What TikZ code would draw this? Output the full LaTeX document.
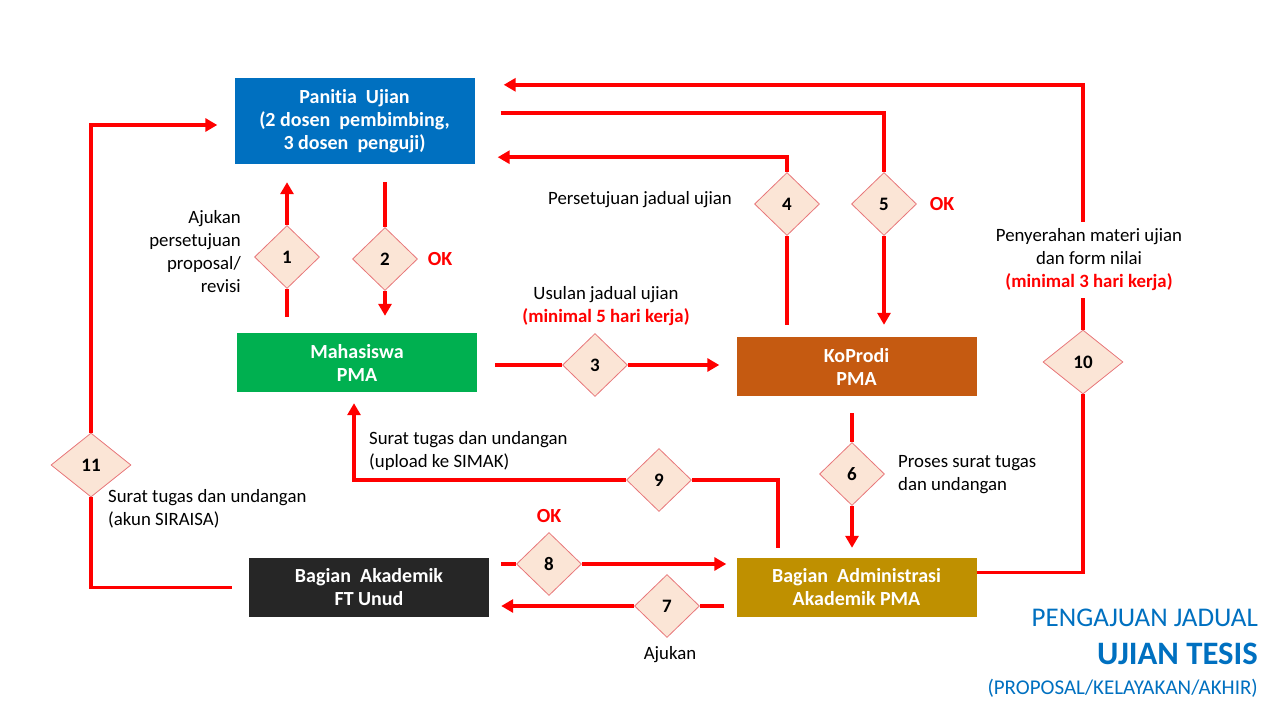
\documentclass[tikz,border=0pt]{standalone}
\usepackage{fontspec}
\setmainfont{Carlito}[Ligatures=NoCommon]
\usetikzlibrary{arrows.meta,shapes.geometric,positioning}

\definecolor{panblue}{HTML}{0070C0}
\definecolor{mhsgreen}{HTML}{00B050}
\definecolor{kopbrown}{HTML}{C55A11}
\definecolor{bakblack}{HTML}{262626}
\definecolor{baagold}{HTML}{BF9000}
\definecolor{flowred}{HTML}{FF0000}
\definecolor{stepfill}{HTML}{FBE5D6}
\definecolor{stepdraw}{HTML}{E8777A}

\tikzset{
  box/.style={rectangle, align=center, text=white, inner sep=0pt,
    minimum width=240pt, minimum height=59pt,
    font=\fontsize{20}{23}\selectfont\bfseries},
  stepnode/.style={diamond, aspect=1, minimum width=65pt, minimum height=63pt,
    inner sep=0pt, fill=stepfill, draw=stepdraw, line width=0.8pt,
    font=\fontsize{19}{20}\selectfont\bfseries},
  widestep/.style={stepnode, minimum width=80pt, minimum height=64pt},
  flow/.style={draw=flowred, line width=3.5pt},
  flowarr/.style={flow, -{Triangle[length=12pt,width=13pt]}},
  lbl/.style={inner sep=2pt, font=\fontsize{18.8}{23}\selectfont},
  oklbl/.style={text=flowred, font=\fontsize{20}{23}\selectfont\bfseries},
  titlelbl/.style={anchor=east, inner sep=0pt, text=panblue}
}

\begin{document}
\begin{tikzpicture}[x=1pt, y=-1pt]
  \useasboundingbox (0,0) rectangle (1280,720);

  % boxes
  \node[box, fill=panblue, minimum height=86pt] (pan) at (354.5,121)
    {Panitia\ \ Ujian\\(2 dosen\ \ pembimbing,\\3 dosen\ \ penguji)};
  \node[box, fill=mhsgreen] (mhs) at (357,362.5) {Mahasiswa\\PMA};
  \node[box, fill=kopbrown] (kop) at (856.5,366.5) {KoProdi\\PMA};
  \node[box, fill=bakblack] (bak) at (369,587.5) {Bagian\ \ Akademik\\FT Unud};
  \node[box, fill=baagold] (baa) at (856.5,587.5) {Bagian\ \ Administrasi\\Akademik PMA};

  % steps
  \node[stepnode] (d1) at (287,257) {1};
  \node[stepnode] (d2) at (385,259) {2};
  \node[stepnode] (d3) at (595,365) {3};
  \node[stepnode] (d4) at (787,204) {4};
  \node[stepnode] (d5) at (884,204) {5};
  \node[stepnode] (d6) at (852,474) {6};
  \node[stepnode] (d7) at (667,606) {7};
  \node[stepnode] (d8) at (549,564) {8};
  \node[stepnode] (d9) at (659,480) {9};
  \node[widestep] (d10) at (1083,362) {10};
  \node[widestep] (d11) at (91,465) {11};

  % labels
  \node[lbl, align=right, anchor=east] (ajukan) at (243,252)
    {Ajukan\\persetujuan\\proposal/\\revisi};
  \node[oklbl] (ok2) at (440,259) {OK};
  \node[lbl] (setuju) at (640,200) {Persetujuan jadual ujian};
  \node[oklbl] (ok5) at (942,204) {OK};
  \node[lbl, align=center] (usulan) at (606,306)
    {Usulan jadual ujian\\{\color{flowred}\bfseries(minimal 5 hari kerja)}};
  \node[lbl, align=center, inner sep=7pt] (serah) at (1089,260)
    {Penyerahan materi ujian\\dan form nilai\\{\color{flowred}\bfseries(minimal 3 hari kerja)}};
  \node[lbl, align=left, anchor=west] (proses) at (896,474.5)
    {Proses surat tugas\\dan undangan};
  \node[lbl, align=left, anchor=west] (simak) at (367,451)
    {Surat tugas dan undangan\\(upload ke SIMAK)};
  \node[lbl, align=left, anchor=west] (siraisa) at (106,509)
    {Surat tugas dan undangan\\(akun SIRAISA)};
  \node[oklbl] (ok8) at (549,516) {OK};
  \node[lbl] (ajukan7) at (670,655) {Ajukan};

  % title
  \node[titlelbl, font=\fontsize{27}{30}\selectfont] (title1) at (1258,618) {PENGAJUAN JADUAL};
  \node[titlelbl, font=\fontsize{32.7}{36}\selectfont\bfseries] (title2) at (1258,654) {UJIAN TESIS};
  \node[titlelbl, font=\fontsize{21}{24}\selectfont] (title3) at (1258,688) {(PROPOSAL/KELAYAKAN/AKHIR)};

  % connectors
  \draw[flow, shorten >=16pt] (d1.south) -- (d1 |- mhs.north);
  \draw[flowarr, shorten >=18pt] (d1.north) -- (d1 |- pan.south);

  \draw[flow, shorten <=18pt] (d2 |- pan.south) -- (d2.north);
  \draw[flowarr, shorten >=17pt] (d2.south) -- (d2 |- mhs.north);

  \draw[flow, shorten <=18pt] (mhs.east |- d3) -- (d3.west);
  \draw[flowarr, shorten >=17pt] (d3.east) -- (kop.west |- d3);

  \draw[flow, shorten <=12pt] (d4 |- kop.north) -- (d4.south);
  \draw[flowarr] (d4.north) |- ([xshift=23pt,yshift=7pt]pan.south east);

  \draw[flow] ([xshift=26pt,yshift=8pt]pan.east) -| (d5.north);
  \draw[flowarr, shorten >=12pt] (d5.south) -- (d5 |- kop.north);

  \draw[flow, shorten <=17pt] (d6 |- kop.south) -- (d6.north);
  \draw[flowarr, shorten >=10pt] (d6.south) -- (d6 |- baa.north);

  \draw[flow, shorten <=12pt] (baa.west |- d7) -- (d7.east);
  \draw[flowarr, shorten >=12pt] (d7.west) -- (bak.east |- d7);

  \draw[flow, shorten <=12pt] (bak.east |- d8) -- (d8.west);
  \draw[flowarr, shorten >=10pt] (d8.east) -- (baa.west |- d8);

  \draw[flow, shorten <=10pt] ([xshift=-78.5pt]baa.north) |- (d9.east);
  \draw[flowarr, shorten >=11pt] (d9.west) -| ([xshift=-3pt]mhs.south);

  \draw[flow] ([yshift=15pt]baa.east) -| (d10.south);
  \draw[flow] (d10.north) -- (d10 |- serah.south);
  \draw[flowarr] (d10 |- serah.north) |- ([xshift=29pt,yshift=-7pt]pan.north east);

  \draw[flow, shorten <=17pt] (bak.west) -| (d11.south);
  \draw[flowarr, shorten >=17pt] (d11.north) |- ([yshift=-4pt]pan.west);
\end{tikzpicture}
\end{document}
